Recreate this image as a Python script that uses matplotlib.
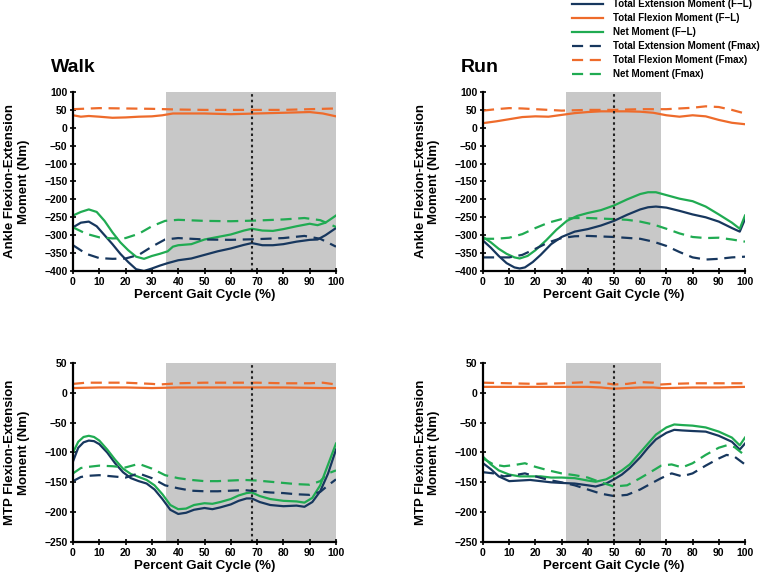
import matplotlib
matplotlib.use("Agg")
import matplotlib.pyplot as plt
from matplotlib.lines import Line2D

plt.rcParams['font.family'] = ['Liberation Sans', 'DejaVu Sans']
plt.rcParams['font.weight'] = 'bold'

# ---------------- data ----------------
# Walk - ankle
wa_ext_fl_x = [0,3,6,9,12,15,18,21,24,27,30,33,36,40,45,50,55,60,65,68,72,76,80,85,90,93,96,100]
wa_ext_fl_y = [-278,-265,-262,-275,-300,-325,-352,-375,-395,-400,-393,-385,-378,-370,-365,-355,-345,-337,-327,-322,-328,-328,-325,-318,-313,-312,-300,-280]
wa_net_fl_x = [0,3,6,9,12,15,18,21,24,27,30,33,36,38,40,45,50,55,60,65,68,72,76,80,85,90,93,96,100]
wa_net_fl_y = [-245,-235,-228,-235,-260,-292,-320,-342,-360,-366,-358,-352,-345,-332,-328,-325,-312,-305,-298,-287,-282,-287,-288,-283,-275,-268,-272,-265,-245]
wa_flx_fl_x = [0,3,6,10,15,20,25,30,34,38,45,50,60,70,80,90,95,100]
wa_flx_fl_y = [35,31,33,31,28,29,31,32,35,40,40,40,38,40,42,44,40,32]
wa_ext_fm_x = [0,5,10,15,20,25,30,35,40,50,60,70,80,88,94,100]
wa_ext_fm_y = [-328,-352,-364,-366,-365,-355,-332,-312,-308,-312,-313,-311,-308,-302,-310,-332]
wa_net_fm_x = [0,5,10,15,20,25,30,35,40,50,60,70,80,88,94,100]
wa_net_fm_y = [-278,-296,-306,-309,-308,-296,-275,-260,-257,-260,-261,-259,-256,-252,-258,-277]
wa_flx_fm_x = [0,10,20,30,35,40,50,60,70,80,90,100]
wa_flx_fm_y = [52,55,54,53,52,51,50,50,50,50,52,54]

# Run - ankle
ra_ext_fl_x = [0,3,6,9,12,14,16,19,22,26,30,35,40,45,50,55,60,63,66,70,75,80,85,90,95,98,100]
ra_ext_fl_y = [-315,-335,-358,-378,-390,-393,-390,-375,-355,-325,-305,-290,-283,-273,-260,-243,-228,-222,-220,-223,-232,-242,-250,-262,-280,-290,-255]
ra_net_fl_x = [0,3,6,9,12,14,17,20,24,28,32,36,40,45,50,55,60,63,66,70,75,80,85,90,95,98,100]
ra_net_fl_y = [-305,-320,-338,-352,-362,-365,-358,-342,-315,-285,-260,-246,-238,-230,-217,-200,-185,-180,-180,-188,-198,-205,-220,-242,-265,-282,-245]
ra_flx_fl_x = [0,5,10,15,20,25,30,35,40,45,50,55,60,65,70,75,80,85,90,95,100]
ra_flx_fl_y = [13,18,24,30,32,31,36,41,44,46,46,46,45,42,35,31,35,32,22,14,10]
ra_ext_fm_x = [0,5,10,15,20,25,30,35,40,50,60,65,70,75,80,85,90,95,100]
ra_ext_fm_y = [-362,-362,-362,-355,-338,-320,-308,-303,-302,-305,-310,-318,-330,-347,-362,-368,-366,-362,-360]
ra_net_fm_x = [0,5,10,15,20,25,30,35,40,50,55,60,65,70,75,80,85,90,95,100]
ra_net_fm_y = [-310,-310,-307,-297,-280,-265,-255,-252,-252,-255,-257,-262,-270,-282,-295,-305,-308,-307,-312,-318]
ra_flx_fm_x = [0,5,10,15,20,30,40,50,60,70,80,85,90,95,100]
ra_flx_fm_y = [48,52,55,54,52,48,50,50,52,52,56,60,58,50,40]

# Walk - MTP
wm_x = [0,2,4,6,8,10,13,16,19,22,25,28,31,34,37,40,43,46,50,53,56,60,63,66,68,71,75,80,85,88,91,94,97,100]
wm_ext_fl_y = [-115,-92,-83,-80,-81,-86,-100,-118,-133,-143,-148,-152,-162,-178,-196,-203,-201,-196,-193,-195,-192,-187,-181,-177,-177,-183,-188,-190,-189,-191,-183,-165,-135,-95]
wm_net_fl_y = [-100,-82,-74,-72,-74,-80,-95,-112,-127,-136,-141,-146,-155,-170,-188,-195,-194,-188,-185,-186,-183,-178,-172,-168,-167,-173,-178,-181,-182,-184,-176,-155,-120,-85]
wm_flx_fl_x = [0,10,20,30,40,60,80,95,100]
wm_flx_fl_y = [8,9,9,8,9,9,9,8,8]
wm_fm_x = [0,3,6,10,15,20,25,30,35,40,45,50,55,60,65,70,75,80,85,90,94,97,100]
wm_ext_fm_y = [-148,-141,-139,-138,-140,-142,-135,-143,-155,-160,-164,-165,-165,-164,-163,-165,-167,-168,-170,-171,-166,-155,-145]
wm_net_fm_y = [-135,-126,-124,-122,-123,-125,-119,-127,-138,-143,-146,-148,-148,-147,-146,-147,-149,-151,-153,-154,-148,-135,-130]
wm_flx_fm_x = [0,5,10,20,30,33,40,50,60,70,80,90,95,100]
wm_flx_fm_y = [15,17,17,17,15,14,16,17,17,17,16,16,17,14]

# Run - MTP
rm_x = [0,3,6,10,14,18,22,26,30,35,40,43,47,50,53,56,60,63,66,70,73,76,80,85,90,95,98,100]
rm_ext_fl_y = [-118,-128,-140,-148,-147,-146,-148,-150,-151,-152,-155,-157,-152,-145,-137,-126,-108,-92,-78,-67,-62,-63,-64,-65,-72,-82,-95,-85]
rm_net_fl_y = [-107,-120,-130,-137,-140,-140,-140,-142,-142,-143,-147,-149,-145,-138,-130,-120,-100,-85,-70,-58,-53,-54,-55,-58,-65,-75,-88,-75]
rm_flx_fl_x = [0,10,20,30,40,45,50,55,60,65,68,70,80,90,100]
rm_flx_fl_y = [10,10,10,10,10,9,7,8,9,9,8,8,9,9,10]
rm_fm_x = [0,4,8,12,16,20,25,30,35,40,45,50,55,60,65,68,72,76,80,85,90,93,96,100]
rm_ext_fm_y = [-133,-135,-140,-138,-135,-140,-146,-150,-155,-162,-169,-173,-171,-162,-150,-143,-135,-140,-135,-122,-110,-104,-107,-120]
rm_net_fm_y = [-110,-120,-123,-121,-118,-124,-130,-135,-138,-142,-150,-157,-155,-143,-130,-122,-120,-125,-118,-104,-92,-88,-91,-105]
rm_flx_fm_x = [0,10,20,30,35,40,45,50,55,60,65,68,72,80,90,100]
rm_flx_fm_y = [17,16,15,16,17,18,17,14,15,18,17,14,15,16,16,16]

walk_shade = (35.5, 100)
walk_toeoff = 68
run_shade = (31.5, 68)
run_toeoff = 50

legend_labels = ['Total Extension Moment (F\u2212L)', 'Total Flexion Moment (F\u2212L)', 'Net Moment (F\u2212L)',
                 'Total Extension Moment (Fmax)', 'Total Flexion Moment (Fmax)', 'Net Moment (Fmax)']
titles = ['Walk', 'Run']
ylabels = ['Ankle Flexion-Extension\nMoment (Nm)', 'MTP Flexion-Extension\nMoment (Nm)']
xlabel = 'Percent Gait Cycle (%)'

# ---------------- style ----------------
BLUE = '#17375e'
ORANGE = '#ee6b2b'
GREEN = '#20ab52'
GRAY = '#c8c8c8'
LW = 1.6
DASH = (0, (5, 3))

W, H = 761, 575
fig = plt.figure(figsize=(W/100, H/100), dpi=100)

def axrect(l, r, t, b):
    return [l/W, 1 - b/H, (r-l)/W, (b-t)/H]

axes = [[fig.add_axes(axrect(73, 336, 92, 271)), fig.add_axes(axrect(483, 745, 92, 271))],
        [fig.add_axes(axrect(73, 336, 363, 542)), fig.add_axes(axrect(483, 745, 363, 542))]]

panels = [
    [dict(series=[(wa_ext_fl_x, wa_ext_fl_y, BLUE, '-'), (wa_flx_fl_x, wa_flx_fl_y, ORANGE, '-'), (wa_net_fl_x, wa_net_fl_y, GREEN, '-'),
                  (wa_ext_fm_x, wa_ext_fm_y, BLUE, DASH), (wa_flx_fm_x, wa_flx_fm_y, ORANGE, DASH), (wa_net_fm_x, wa_net_fm_y, GREEN, DASH)],
          shade=walk_shade, toe=walk_toeoff),
     dict(series=[(ra_ext_fl_x, ra_ext_fl_y, BLUE, '-'), (ra_flx_fl_x, ra_flx_fl_y, ORANGE, '-'), (ra_net_fl_x, ra_net_fl_y, GREEN, '-'),
                  (ra_ext_fm_x, ra_ext_fm_y, BLUE, DASH), (ra_flx_fm_x, ra_flx_fm_y, ORANGE, DASH), (ra_net_fm_x, ra_net_fm_y, GREEN, DASH)],
          shade=run_shade, toe=run_toeoff)],
    [dict(series=[(wm_x, wm_ext_fl_y, BLUE, '-'), (wm_flx_fl_x, wm_flx_fl_y, ORANGE, '-'), (wm_x, wm_net_fl_y, GREEN, '-'),
                  (wm_fm_x, wm_ext_fm_y, BLUE, DASH), (wm_flx_fm_x, wm_flx_fm_y, ORANGE, DASH), (wm_fm_x, wm_net_fm_y, GREEN, DASH)],
          shade=walk_shade, toe=walk_toeoff),
     dict(series=[(rm_x, rm_ext_fl_y, BLUE, '-'), (rm_flx_fl_x, rm_flx_fl_y, ORANGE, '-'), (rm_x, rm_net_fl_y, GREEN, '-'),
                  (rm_fm_x, rm_ext_fm_y, BLUE, DASH), (rm_flx_fm_x, rm_flx_fm_y, ORANGE, DASH), (rm_fm_x, rm_net_fm_y, GREEN, DASH)],
          shade=run_shade, toe=run_toeoff)],
]
ylims = [(-400, 100), (-250, 50)]

for r in range(2):
    for c in range(2):
        ax = axes[r][c]
        p = panels[r][c]
        ax.axvspan(p['shade'][0], p['shade'][1], color=GRAY, lw=0, zorder=0)
        ax.axvline(p['toe'], color='#222222', ls=(0, (1.2, 1.5)), lw=1.5, zorder=3)
        for x, y, col, ls in p['series']:
            ax.plot(x, y, color=col, ls=ls, lw=LW, zorder=2)
        ax.set_xlim(0, 100)
        ax.set_ylim(*ylims[r])
        ax.set_xticks(range(0, 101, 10))
        ax.set_yticks(range(ylims[r][0], ylims[r][1] + 1, 50))
        ax.set_yticklabels([str(v).replace('-', '\u2212') for v in range(ylims[r][0], ylims[r][1] + 1, 50)])
        for s in ['top', 'right']:
            ax.spines[s].set_visible(False)
        for s in ['left', 'bottom']:
            ax.spines[s].set_linewidth(1.6)
            ax.spines[s].set_zorder(4)
        ax.tick_params(direction='inout', length=4, width=1.2, labelsize=7.5, pad=2)
        for lab in ax.get_xticklabels() + ax.get_yticklabels():
            lab.set_fontweight('bold')
        ax.set_xlabel(xlabel, fontsize=9.5, fontweight='bold', labelpad=2)
        ax.text(-56/263, 0.5, ylabels[r], transform=ax.transAxes, rotation=90,
                ha='center', va='center', multialignment='center', fontsize=9.5,
                fontweight='bold', linespacing=1.15)
        if r == 0:
            ax.text(-22/263, 1 + 20/179, titles[c], transform=ax.transAxes, fontsize=14,
                    fontweight='bold', ha='left', va='baseline')

handles = [Line2D([], [], color=BLUE, lw=LW, ls='-'), Line2D([], [], color=ORANGE, lw=LW, ls='-'),
           Line2D([], [], color=GREEN, lw=LW, ls='-'), Line2D([], [], color=BLUE, lw=LW, ls=DASH),
           Line2D([], [], color=ORANGE, lw=LW, ls=DASH), Line2D([], [], color=GREEN, lw=LW, ls=DASH)]
leg = fig.legend(handles, legend_labels, loc='upper left', bbox_to_anchor=(572/W, 1 + 1/H),
                 frameon=False, borderpad=0, borderaxespad=0, handlelength=3.2,
                 handletextpad=1.0, labelspacing=0.42, prop={'size': 7, 'weight': 'bold'})

fig.savefig('out.png', dpi=100)
